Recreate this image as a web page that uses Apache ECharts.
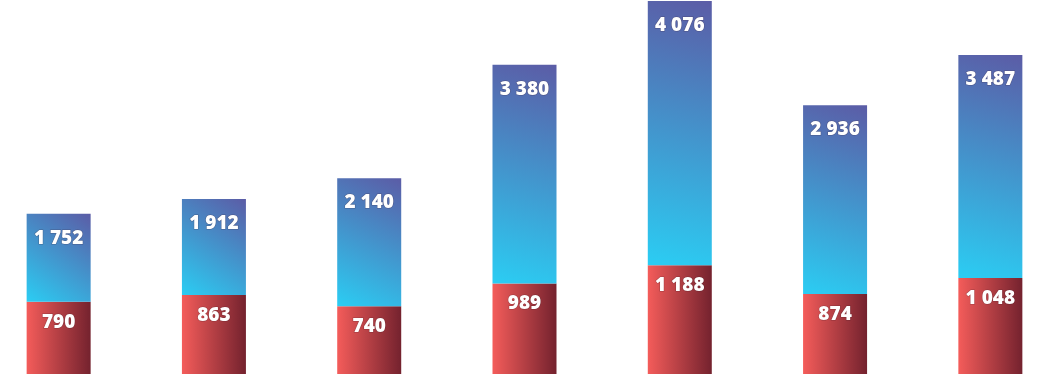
<!DOCTYPE html>
<html><head><meta charset="utf-8">
<script src="https://cdn.jsdelivr.net/npm/echarts@6/dist/echarts.min.js"></script>
<style>html,body{margin:0;padding:0;background:#fff;overflow:hidden;width:1058px;height:385px;position:relative}
#c{position:absolute;left:-18.67px;top:0;width:1087.33px;height:385px}</style>
</head><body><div id="c"></div>
<script>
const categories = ['1','2','3','4','5','6','7'];
const bottomValues = [790, 863, 740, 989, 1188, 874, 1048];
const totalValues = [1752, 1912, 2140, 3380, 4076, 2936, 3487];
const topSegment = totalValues.map((t, i) => t - bottomValues[i]);

function fmt(v){ return String(v).replace(/\B(?=(\d{3})+(?!\d))/g, ' '); }

const labelStyle = {
  show: true, position: 'insideTop', color: '#fff', fontWeight: 800,
  fontFamily: 'Open Sans', fontSize: 19, textBorderColor: 'rgba(60,30,40,0.35)', textBorderWidth: 1
};

const chart = echarts.init(document.getElementById('c'));
chart.setOption({
  animation: false,
  grid: { left: 0, right: 0, top: 0, bottom: 11 },
  xAxis: { type: 'category', data: categories, show: false },
  yAxis: { type: 'value', min: 0, max: 4087, show: false },
  series: [
    {
      type: 'bar', stack: 's', barWidth: 64, data: bottomValues,
      itemStyle: { color: new echarts.graphic.LinearGradient(0, 0, 1, 0, [
        { offset: 0, color: '#f45c5a' }, { offset: 1, color: '#74222e' }]) },
      label: Object.assign({}, labelStyle, { distance: 11, formatter: p => fmt(p.value) })
    },
    {
      type: 'bar', stack: 's', barWidth: 64, data: topSegment,
      itemStyle: { color: new echarts.graphic.LinearGradient(0, 1, 1, 0, [
        { offset: 0, color: '#2bcdf3' }, { offset: 1, color: '#5b5ca6' }]) },
      label: Object.assign({}, labelStyle, { distance: 15, formatter: p => fmt(totalValues[p.dataIndex]) })
    }
  ]
});
</script></body></html>
